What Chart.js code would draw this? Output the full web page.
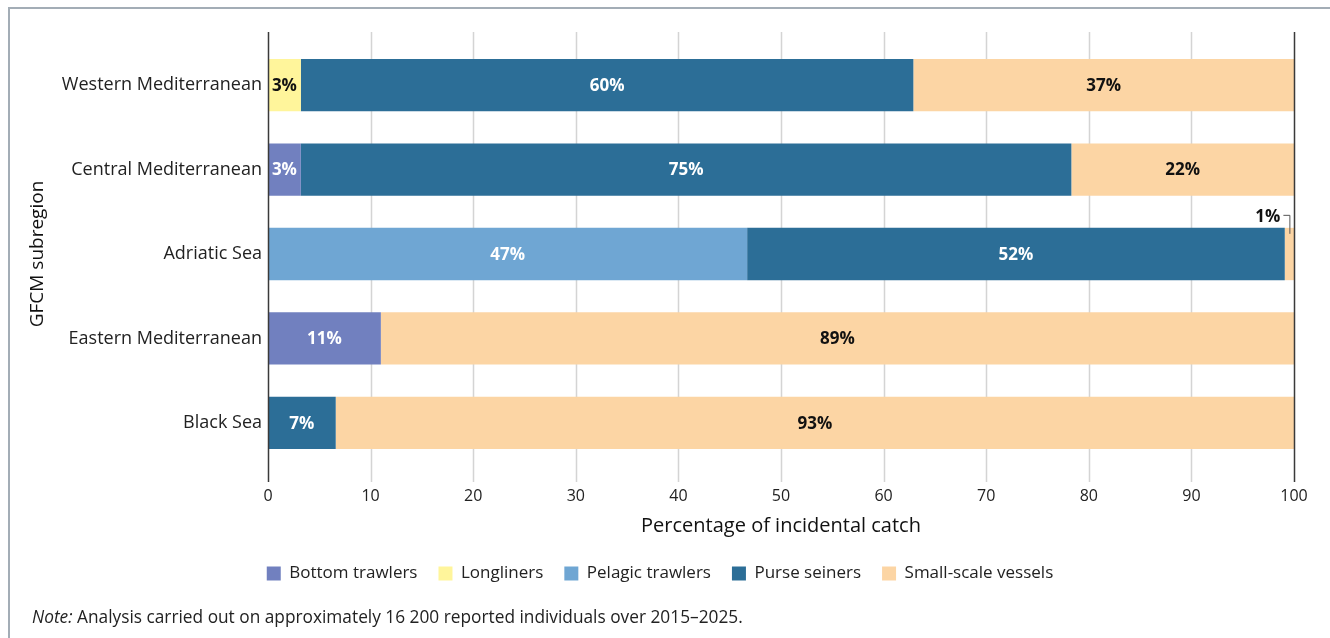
<!DOCTYPE html>
<html>
<head>
<meta charset="utf-8">
<script src="https://cdn.jsdelivr.net/npm/chart.js@4/dist/chart.umd.min.js"></script>
<style>
  html, body { margin: 0; padding: 0; background: #fff; }
  #wrap { position: relative; width: 1330px; height: 638px; overflow: hidden; }
  #frame { position: absolute; left: 8px; top: 7px; width: 1400px; height: 700px;
           border-top: 2px solid #a3adb6; border-left: 2px solid #a3adb6; }
  #note { position: absolute; left: 32px; top: 605px; font: 17.3px "Open Sans", sans-serif; color: #222; }
  canvas { position: absolute; left: 0; top: 0; }
</style>
</head>
<body>
<div id="wrap">
  <div id="frame"></div>
  <canvas id="catchChart" width="1330" height="638"></canvas>
  <div id="note"><i>Note:</i> Analysis carried out on approximately 16 200 reported individuals over 2015–2025.</div>
</div>
<script>
// data
var regions = ['Western Mediterranean', 'Central Mediterranean', 'Adriatic Sea', 'Eastern Mediterranean', 'Black Sea'];
var bottomTrawlers  = [0, 3.2, 0, 11.0, 0];
var longliners      = [3.2, 0, 0, 0, 0];
var pelagicTrawlers = [0, 0, 46.7, 0, 0];
var purseSeiners    = [59.7, 75.1, 52.4, 0, 6.6];
var smallScale      = [37.1, 21.7, 0.9, 89.0, 93.4];

var FONT = '"Open Sans", sans-serif';

// grid lines run a bit past the bars, like the original
var gridPlugin = {
  id: 'grid',
  afterLayout: function (chart) {
    // legend sits centred on the page in the original
    chart.legend.left += 13;
    chart.legend.right += 13;
  },
  beforeDatasetsDraw: function (chart) {
    var ctx = chart.ctx, x = chart.scales.x, a = chart.chartArea;
    ctx.save();
    ctx.strokeStyle = '#d4d4d4';
    ctx.lineWidth = 1.5;
    x.ticks.forEach(function (t) {
      if (t.value === 0 || t.value === 100) return;
      var px = Math.round(x.getPixelForValue(t.value)) + 0.5;
      ctx.beginPath(); ctx.moveTo(px, a.top - 11); ctx.lineTo(px, a.bottom + 17); ctx.stroke();
    });
    ctx.restore();
  },
  afterDatasetsDraw: function (chart) {
    var ctx = chart.ctx, x = chart.scales.x, a = chart.chartArea;
    ctx.save();
    ctx.strokeStyle = '#3a3a3a';
    ctx.lineWidth = 1.5;
    [0, 100].forEach(function (v) {
      var px = Math.round(x.getPixelForValue(v)) + 0.5;
      ctx.beginPath(); ctx.moveTo(px, a.top - 11); ctx.lineTo(px, a.bottom + 17); ctx.stroke();
    });

    // segment labels
    ctx.font = 'bold 17px ' + FONT;
    ctx.textBaseline = 'middle';
    chart.data.datasets.forEach(function (ds, di) {
      var meta = chart.getDatasetMeta(di);
      meta.data.forEach(function (bar, i) {
        var v = ds.data[i];
        if (!v) return;
        var txt = Math.round(v) + '%';
        var left = Math.min(bar.x, bar.base), right = Math.max(bar.x, bar.base);
        var cx = (left + right) / 2;
        ctx.fillStyle = ds.labelColor;
        if (right - left < 20) {
          // small slice: label above with a leader line
          var top = bar.y - bar.height / 2;
          ctx.textAlign = 'right';
          ctx.fillStyle = '#111';
          ctx.fillText(txt, cx - 9, top - 11);
          ctx.strokeStyle = '#555';
          ctx.lineWidth = 1;
          ctx.beginPath();
          ctx.moveTo(cx - 6, top - 12.5); ctx.lineTo(cx + 0.5, top - 12.5); ctx.lineTo(cx + 0.5, top + 6);
          ctx.stroke();
        } else {
          ctx.textAlign = 'center';
          ctx.fillText(txt, cx, bar.y + 1);
        }
      });
    });
    ctx.restore();
  }
};

new Chart(document.getElementById('catchChart'), {
  type: 'bar',
  data: {
    labels: regions,
    datasets: [
      { label: 'Bottom trawlers', data: bottomTrawlers, backgroundColor: '#7180bf', labelColor: '#fff' },
      { label: 'Longliners', data: longliners, backgroundColor: '#fff59b', labelColor: '#111' },
      { label: 'Pelagic trawlers', data: pelagicTrawlers, backgroundColor: '#6fa6d3', labelColor: '#fff' },
      { label: 'Purse seiners', data: purseSeiners, backgroundColor: '#2c6e97', labelColor: '#fff' },
      { label: 'Small-scale vessels', data: smallScale, backgroundColor: '#fcd5a4', labelColor: '#111' }
    ]
  },
  options: {
    indexAxis: 'y',
    responsive: false,
    animation: false,
    layout: { padding: { top: 43, right: 36, left: 0, bottom: 46 } },
    datasets: { bar: { barPercentage: 0.62, categoryPercentage: 1, borderWidth: 0 } },
    plugins: {
      tooltip: { enabled: false },
      legend: {
        position: 'bottom',
        labels: { boxWidth: 14, boxHeight: 14, padding: 21, color: '#222', font: { family: FONT, size: 17 } }
      }
    },
    scales: {
      x: {
        stacked: true, min: 0, max: 100,
        grid: { display: false, drawTicks: false },
        border: { display: false },
        ticks: { stepSize: 10, padding: 22, color: '#222', font: { family: FONT, size: 16 } },
        title: { display: true, text: 'Percentage of incidental catch', color: '#111', font: { family: FONT, size: 20 }, padding: { top: 8, bottom: 6 } },
        afterFit: function (s) { s.height = 79; }
      },
      y: {
        stacked: true,
        grid: { display: false, drawTicks: false },
        border: { display: false },
        ticks: { padding: 6, color: '#222', font: { family: FONT, size: 18 } },
        title: { display: true, text: 'GFCM subregion', color: '#111', font: { family: FONT, size: 19 }, padding: { top: 26, bottom: 0 } },
        afterFit: function (s) { s.width = 268; }
      }
    }
  },
  plugins: [gridPlugin]
});
</script>
</body>
</html>
